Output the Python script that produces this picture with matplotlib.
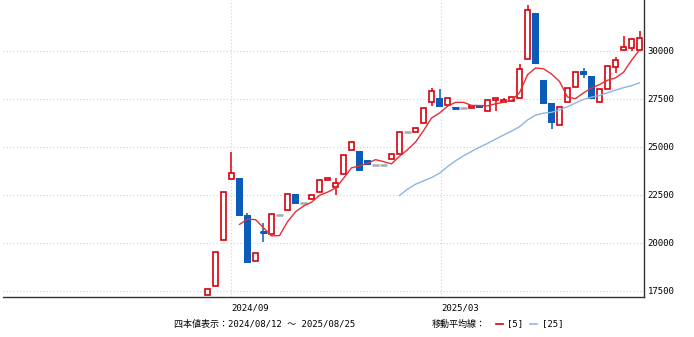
import numpy as np
import pandas as pd
import matplotlib
matplotlib.use('Agg')
import matplotlib.pyplot as plt
from matplotlib.lines import Line2D

# weekly candles, 2024/08/12 .. 2025/08/25 (one entry per week)
opens = [17300, 17760, 20140, 23330, 23385, 21440, 19060, 20580, 20480, 21480,
         21700, 22540, 22070, 22280, 22660, 23270, 22930, 23590, 24830, 24790,
         24310, 24060, 24060, 24360, 24650, 25770, 25770, 26250, 27340, 27540,
         27200, 27070, 27050, 27050, 27140, 26880, 27450, 27340, 27410, 27540,
         29600, 31980, 28490, 27280, 26130, 27340, 28140, 28960, 28710, 27340,
         28040, 29150, 30040, 30140, 30040]
highs = [17600, 19550, 22670, 24740, 23385, 21580, 19460, 21030, 21510, 21480,
         22540, 22540, 22070, 22500, 23270, 23370, 23370, 24570, 25250, 24790,
         24310, 24060, 24060, 24650, 25770, 25770, 26010, 27050, 28060, 28010,
         27540, 27070, 27050, 27140, 27140, 27450, 27550, 27570, 27620, 29310,
         32380, 31980, 28490, 27280, 27100, 28090, 28890, 29120, 28710, 28010,
         29200, 29670, 30800, 30640, 31060]
lows = [17300, 17760, 20140, 23330, 21390, 18940, 19060, 20070, 20480, 21480,
        21700, 22030, 22070, 22280, 22660, 23270, 22500, 23590, 24830, 23770,
        24050, 24060, 24060, 24360, 24650, 25770, 25770, 26250, 27150, 27080,
        27200, 27020, 27050, 27050, 27050, 26880, 26880, 27340, 27410, 27540,
        29600, 29320, 27230, 25920, 26130, 27340, 28140, 28590, 27520, 27340,
        28040, 28870, 30040, 29980, 30040]
closes = [17600, 19550, 22670, 23630, 21390, 18940, 19460, 20540, 21510, 21480,
          22540, 22030, 22070, 22500, 23270, 23370, 23110, 24570, 25250, 23770,
          24050, 24060, 24060, 24650, 25770, 25770, 26010, 27050, 27930, 27080,
          27540, 27020, 27050, 27140, 27050, 27450, 27550, 27450, 27620, 29050,
          32140, 29320, 27230, 26270, 27100, 28090, 28890, 28750, 27520, 28010,
          29200, 29520, 30210, 30640, 30690]
month_labels = ['2024/09', '2025/03']
yticks = [17500, 20000, 22500, 25000, 27500, 30000]
period_text = '四本値表示：2024/08/12 〜 2025/08/25'

RED = '#d8000c'
BLUE = '#0a5cb8'
GRAY = '#aaaaaa'
JP = ['DejaVu Sans Mono', 'Noto Sans CJK JP']

W, H = 694, 337
fig = plt.figure(figsize=(W / 100, H / 100), dpi=100)
ax = fig.add_axes([3 / W, 40 / H, 641 / W, 297 / H])

o = np.array(opens)
h = np.array(highs)
l = np.array(lows)
c = np.array(closes)
x = np.arange(len(o))
up = c > o
down = c < o
flat = c == o

# wicks
ax.vlines(x[up], l[up], h[up], color=RED, lw=1.1, zorder=2)
ax.vlines(x[down], l[down], h[down], color=BLUE, lw=1.1, zorder=2)
# bodies
ax.bar(x[up], (c - o)[up], bottom=o[up], width=0.72, facecolor='white',
       edgecolor=RED, lw=1.2, zorder=3)
ax.bar(x[down], (c - o)[down], bottom=o[down], width=0.85, color=BLUE,
       lw=0, zorder=3)
# thin blue bodies need a minimum height to show
thin = down & ((o - c) < 80)
ax.hlines(((o + c) / 2)[thin], x[thin] - 0.42, x[thin] + 0.42, color=BLUE,
          lw=2.2, zorder=3)
ax.hlines(c[flat], x[flat] - 0.42, x[flat] + 0.42, color=GRAY, lw=1.8, zorder=3)

# moving averages
s = pd.Series(c, dtype=float)
ax.plot(x, s.rolling(5).mean(), color='#e03036', lw=1.0, zorder=4)
ax.plot(x, s.rolling(25).mean(), color='#8db6e2', lw=1.0, zorder=4)

ax.set_xlim(-25.56, 54.56)
ax.set_ylim(17187, 32655)

ax.set_yticks(yticks)
ax.set_yticklabels([str(v) for v in yticks], family='DejaVu Sans Mono',
                   fontsize=6.5)
ax.yaxis.tick_right()
ax.set_xticks([2.94, 29.19])
ax.set_xticklabels(month_labels, family='DejaVu Sans Mono', fontsize=6.5,
                   ha='left')
ax.tick_params(axis='both', length=0, pad=2.5, colors='black')
ax.tick_params(axis='x', pad=5)

ax.grid(True, color='#ccd2dc', linestyle=(0, (1, 2)), lw=0.8)
ax.set_axisbelow(True)
for side in ['top', 'left']:
    ax.spines[side].set_visible(False)
for side in ['right', 'bottom']:
    ax.spines[side].set_color('#333333')
    ax.spines[side].set_linewidth(1.0)

# bottom legend line
ty = 1 - 324 / H
fig.text(174 / W, ty, period_text, family=JP, fontsize=6.5, va='center',
         ha='left')
fig.text(432 / W, ty, '移動平均線：', family=JP, fontsize=6.5, va='center',
         ha='left')
fig.add_artist(Line2D([496 / W, 503 / W], [ty, ty], color=RED, lw=1.2))
fig.text(507 / W, ty, '[5]', family='DejaVu Sans Mono', fontsize=6.5,
         va='center', ha='left')
fig.add_artist(Line2D([530 / W, 537 / W], [ty, ty], color='#8db6e2', lw=1.2))
fig.text(542 / W, ty, '[25]', family='DejaVu Sans Mono', fontsize=6.5,
         va='center', ha='left')

fig.savefig('out.png', dpi=100)
